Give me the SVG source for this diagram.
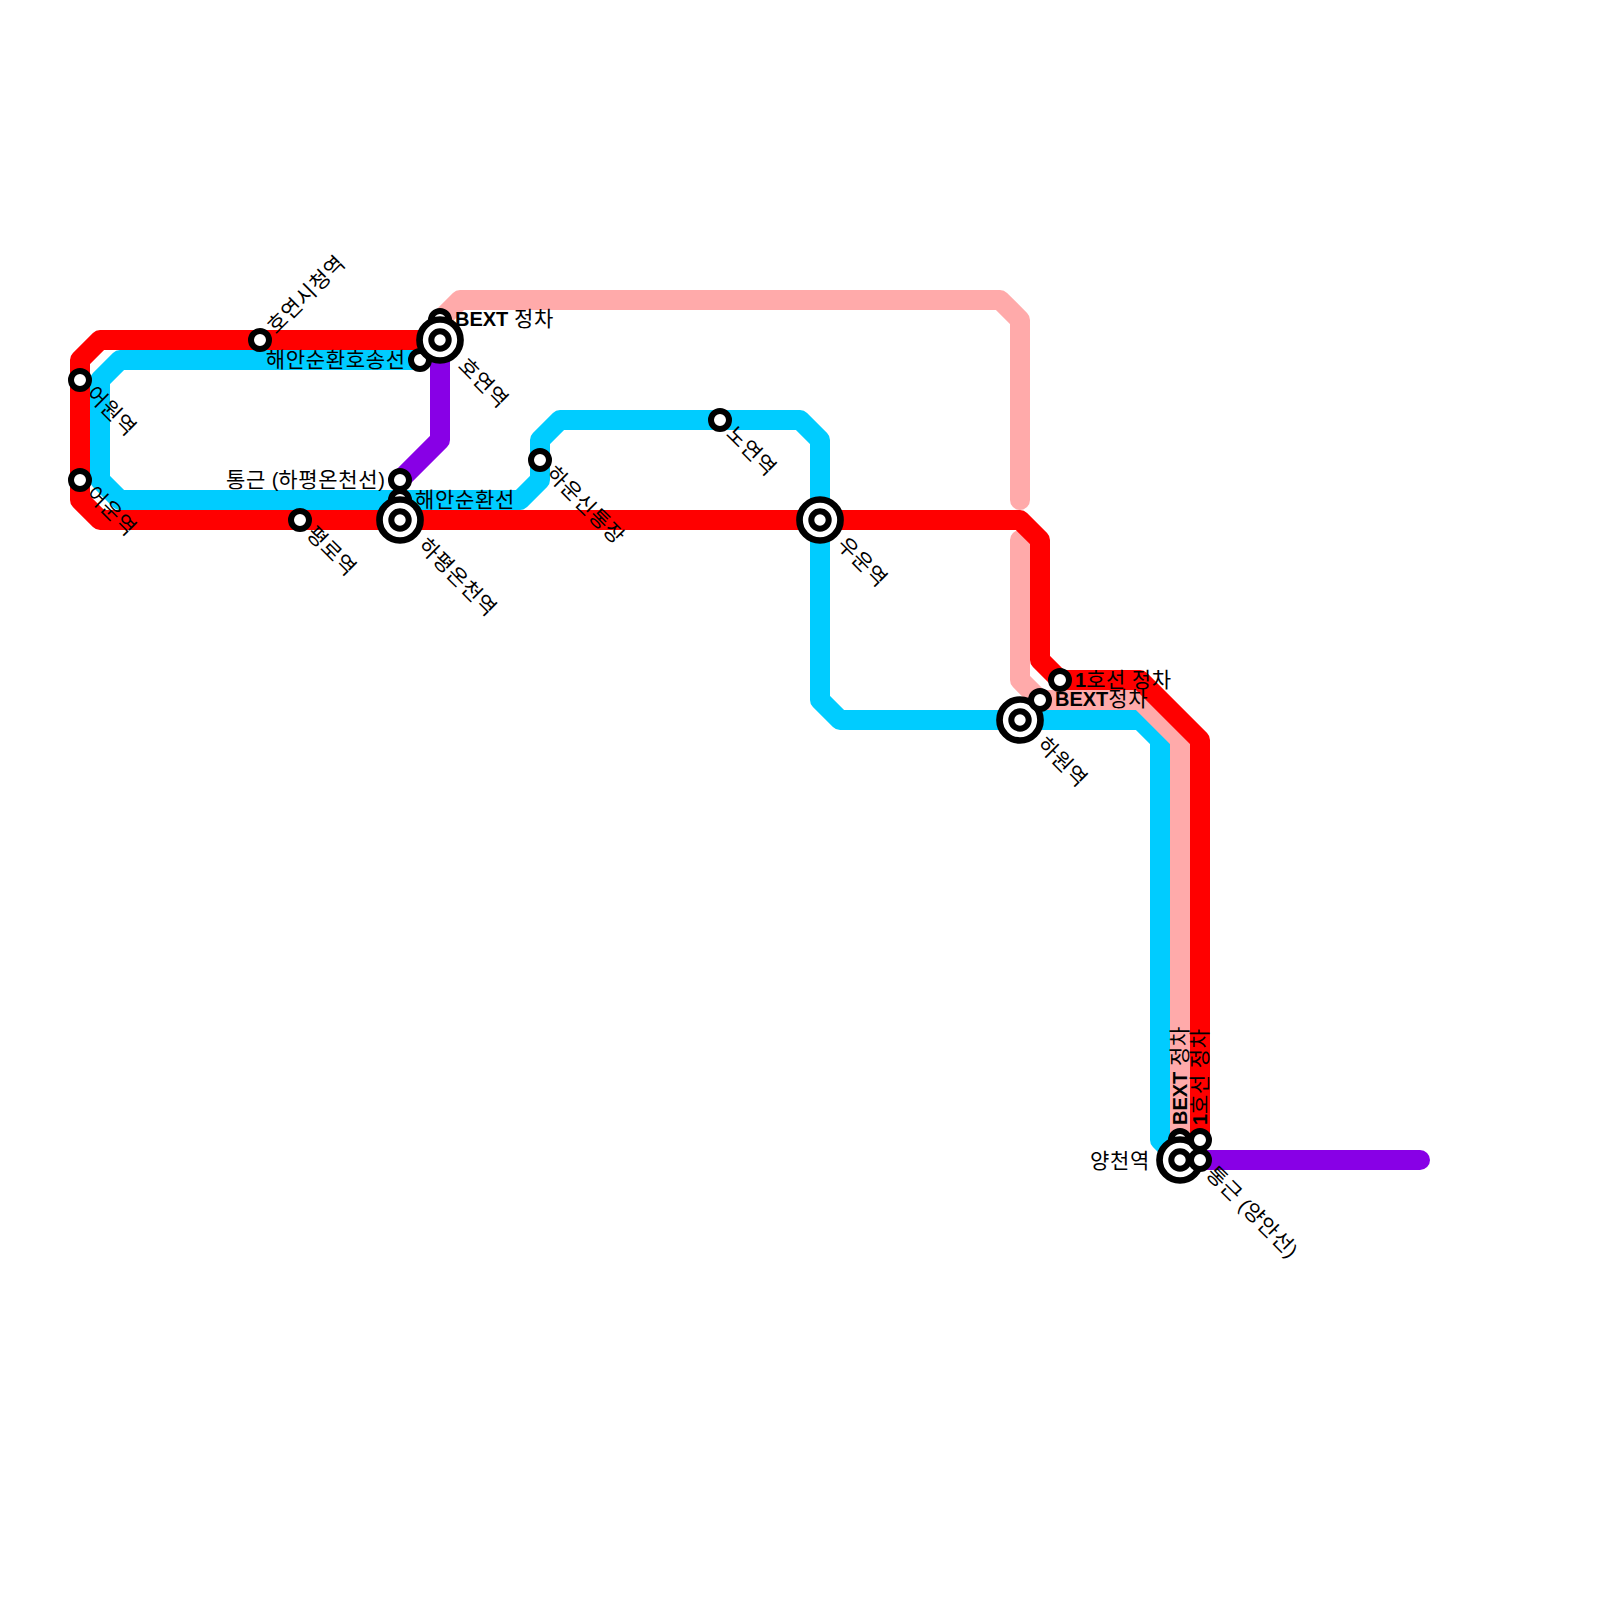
<svg xmlns="http://www.w3.org/2000/svg" width="1600" height="1600" viewBox="0 0 1600 1600">
<style>
.l{fill:none;stroke-width:20;stroke-linejoin:round;stroke-linecap:round}
.red{stroke:#ff0000}.pink{stroke:#ffaaaa}.blue{stroke:#00ccff}.pur{stroke:#8800e6}
.s{fill:#fff;stroke:#000;stroke-width:6}
.o{stroke-width:6.7}
text{font-family:"Liberation Sans","Noto Sans CJK KR",sans-serif;font-size:21px;fill:#000;letter-spacing:.68px}
.b{font-weight:bold;letter-spacing:0;font-size:20px}
.a{letter-spacing:0;font-size:20px}
.e{text-anchor:end}
</style>
<defs>
<g id="big"><circle r="20.5" class="s o"/><circle r="8.7" class="s"/></g>
<circle id="small" r="9" class="s"/>
</defs>
<rect width="1600" height="1600" fill="#fff"/>
<g id="connectors">
<path class="l blue" d="M420 360H120L100 380V480L120 500H520L540 480V440L560 420H800L820 440V700L840 720H1140L1160 740V1140L1180 1160"/>
<path class="l pink" d="M440 320L460 300H1000L1020 320V500"/>
<path class="l pink" d="M1020 540V680L1040 700H1140L1180 740V1160"/>
<path class="l red" d="M440 340H100L80 360V500L100 520H1020L1040 540V660L1060 680H1140L1200 740V1140"/>
<path class="l pur" d="M440 340V440L400 480"/>
<path class="l pur" d="M1200 1160H1420"/>
</g>
<g id="n-hoyeonsi"><use href="#small" x="260" y="340"/><text transform="translate(271 330) rotate(-45)" dy="7">호연시청역</text></g>
<g id="n-eowon"><use href="#small" x="80" y="380"/><text transform="translate(90 390) rotate(45)" dy="7">어원역</text></g>
<g id="n-eoun"><use href="#small" x="80" y="480"/><text transform="translate(90 490) rotate(45)" dy="7">어운역</text></g>
<g id="n-pyeongro"><use href="#small" x="300" y="520"/><text transform="translate(310 530) rotate(45)" dy="7">평로역</text></g>
<g id="n-s400-500"><use href="#small" x="400" y="500"/><text x="415" y="507">해안순환선</text></g>
<g id="n-hapyeong"><use href="#big" x="400" y="520"/><text transform="translate(422 542) rotate(45)" dy="7">하평온천역</text></g>
<g id="n-s400-480"><use href="#small" x="400" y="480"/><text class="e" x="385" y="487">통근<tspan class="a"> (</tspan>하평온천선<tspan class="a">)</tspan></text></g>
<g id="n-s420-360"><use href="#small" x="420" y="360"/><text class="e" x="405.7" y="367">해안순환호송선</text></g>
<g id="n-s440-320"><use href="#small" x="440" y="320"/><text x="455" y="326"><tspan class="b">BEXT</tspan><tspan class="a"> </tspan>정차</text></g>
<g id="n-hoyeon"><use href="#big" x="440" y="340"/><text transform="translate(462 362) rotate(45)" dy="7">호연역</text></g>
<g id="n-haun"><use href="#small" x="540" y="460"/><text transform="translate(550 470) rotate(45)" dy="7">하운신통장</text></g>
<g id="n-noyeon"><use href="#small" x="720" y="420"/><text transform="translate(730 430) rotate(45)" dy="7">노연역</text></g>
<g id="n-uun"><use href="#big" x="820" y="520"/><text transform="translate(841 541) rotate(45)" dy="7">우운역</text></g>
<g id="n-hawon"><use href="#big" x="1020" y="720"/><text transform="translate(1041 741) rotate(45)" dy="7">하원역</text></g>
<g id="n-s1060"><use href="#small" x="1060" y="680"/><text x="1075" y="687"><tspan class="b">1</tspan>호선<tspan class="a"> </tspan>정차</text></g>
<g id="n-s1040"><use href="#small" x="1040" y="700"/><text x="1055" y="706"><tspan class="b">BEXT</tspan>정차</text></g>
<g id="n-s1180"><use href="#small" x="1180" y="1140"/><text transform="translate(1187 1125) rotate(-90)"><tspan class="b">BEXT</tspan><tspan class="a"> </tspan>정차</text></g>
<g id="n-yangcheon"><use href="#big" x="1180" y="1160"/><text class="e" x="1150" y="1168">양천역</text></g>
<g id="n-s1200-1140"><use href="#small" x="1200" y="1140"/><text transform="translate(1207 1125) rotate(-90)"><tspan class="b">1</tspan>호선<tspan class="a"> </tspan>정차</text></g>
<g id="n-s1200-1160"><use href="#small" x="1200" y="1160"/><text transform="translate(1210 1170) rotate(45)" dy="7">통근<tspan class="a"> (</tspan>양안선<tspan class="a">)</tspan></text></g>
</svg>
